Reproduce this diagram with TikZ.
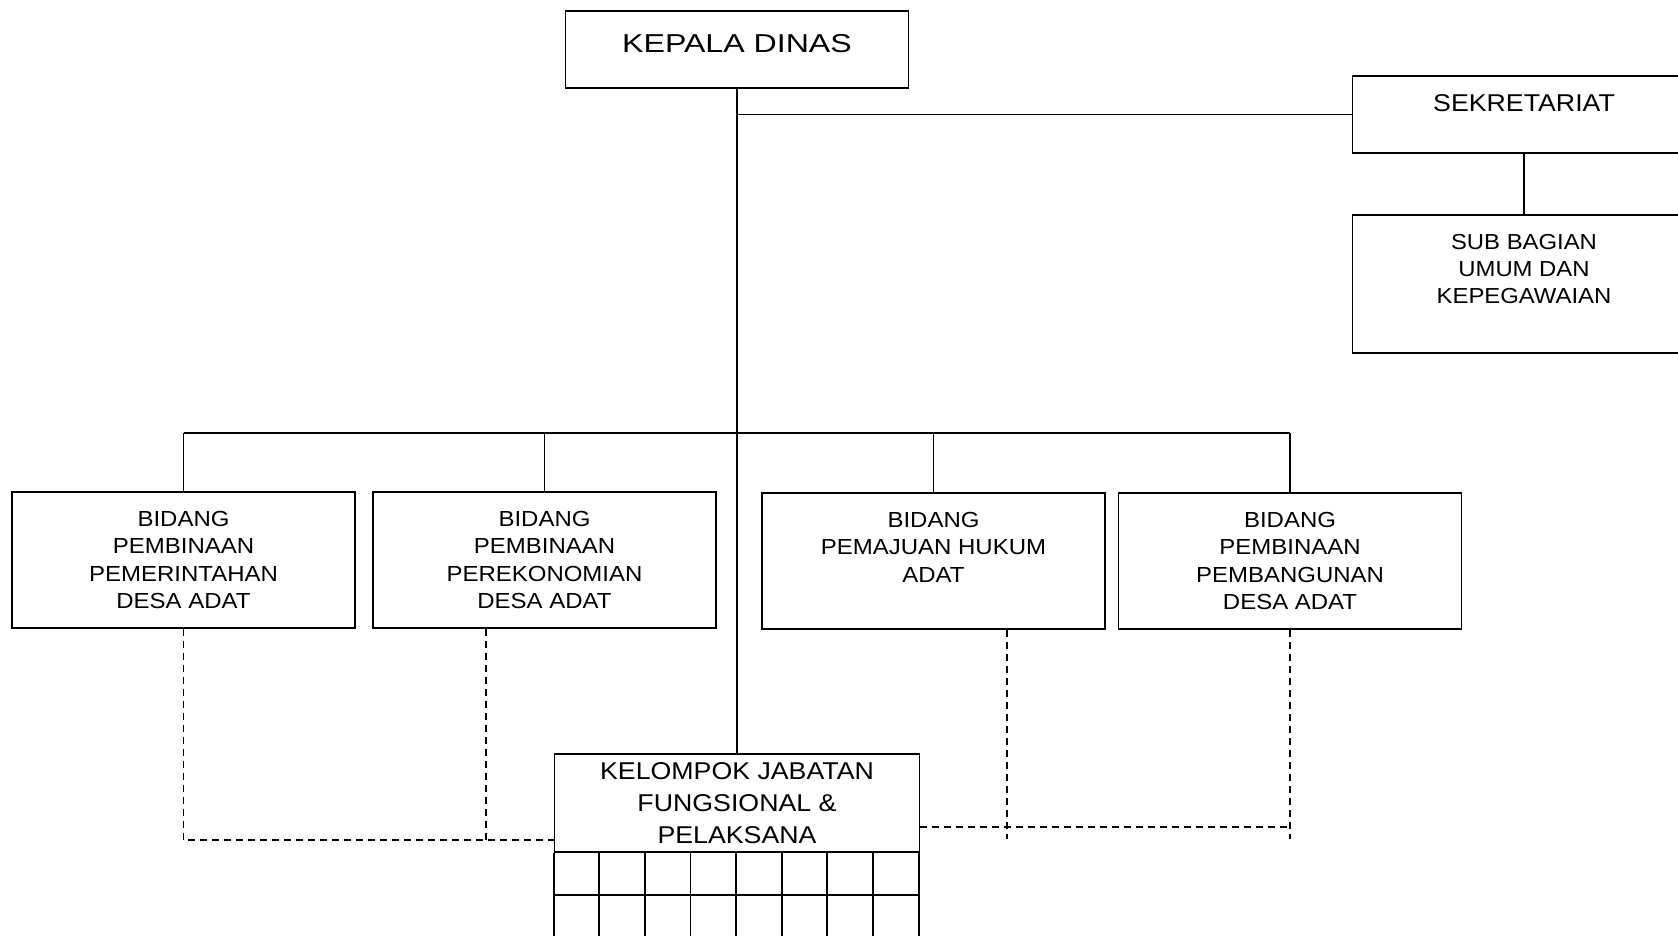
\documentclass[tikz,border=0pt]{standalone}
\usepackage{fontspec}
\setmainfont{Liberation Sans}[FakeStretch=1.1]
\newfontfamily\headfont{Liberation Sans}[FakeStretch=1.24]
\usetikzlibrary{calc}

\newcommand{\unitfont}{\fontsize{21.8}{27.5}\selectfont}
\newcommand{\subfont}{\fontsize{21.7}{26.7}\selectfont}
\newcommand{\bigfont}{\fontsize{24.3}{32}\selectfont}

\tikzset{
  frame/.style={line width=1.8pt},
  unit/.style={frame, draw, inner sep=0pt, minimum width=343pt, minimum height=136pt},
  caption/.style={anchor=north, align=center, inner sep=0pt, yshift=#1},
  link/.style={line width=1.5pt},
  staff/.style={line width=1.4pt, dash pattern=on 7pt off 5pt},
}

\begin{document}
\begin{tikzpicture}[x=1pt, y=-1pt]
  \path[use as bounding box, clip] (0,0) rectangle (1678,936);

  % pimpinan dan sekretariat
  \node[unit, minimum height=77pt,
    label={[caption=-24.5pt, font=\headfont\fontsize{25.9}{31}\selectfont]north:KEPALA DINAS}]
    (kadis) at (737,49.5) {};
  \node[unit, minimum height=77pt,
    label={[caption=-19pt, font=\bigfont]north:SEKRETARIAT}]
    (sekre) at (1524,114.5) {};
  \node[unit, minimum height=138pt,
    label={[caption=-20.3pt, font=\subfont]north:{SUB BAGIAN\\UMUM DAN\\KEPEGAWAIAN}}]
    (subbag) at (1524,284) {};

  % bidang
  \node[unit, label={[caption=-19.5pt, font=\unitfont]north:{BIDANG\\PEMBINAAN\\PEMERINTAHAN\\DESA ADAT}}]
    (bid1) at (183.5,560) {};
  \node[unit, label={[caption=-19.5pt, font=\unitfont]north:{BIDANG\\PEMBINAAN\\PEREKONOMIAN\\DESA ADAT}}]
    (bid2) at (544.5,560) {};
  \node[unit, label={[caption=-19.5pt, font=\unitfont]north:{BIDANG\\PEMAJUAN HUKUM\\ADAT}}]
    (bid3) at (933.5,561) {};
  \node[unit, label={[caption=-19.5pt, font=\unitfont]north:{BIDANG\\PEMBINAAN\\PEMBANGUNAN\\DESA ADAT}}]
    (bid4) at (1290,561) {};

  % jabatan fungsional
  \node[unit, minimum width=365pt, minimum height=98pt,
    label={[caption=-9pt, font=\bigfont]north:{KELOMPOK JABATAN\\FUNGSIONAL \&\\PELAKSANA}}]
    (jafung) at (737,803) {};
  \foreach \k in {0,...,8}
    \draw[frame] ($(jafung.south west)+(\k*45.625,0)$) -- ++(0,100);
  \draw[frame] ($(jafung.south west)+(0,42)$) -- ++(365,0);

  % garis komando
  \coordinate (bus) at (737,433);
  \draw[link] (kadis.south) -- (jafung.north);
  \draw[link] (kadis.south |- sekre.west) -- (sekre.west);
  \draw[link] (sekre.south) -- (subbag.north);
  \draw[link] (bid1.north |- bus) -- (bid4.north |- bus);
  \foreach \b in {bid1,bid2,bid3,bid4}
    \draw[link] (\b.north |- bus) -- (\b.north);

  % garis koordinasi
  \coordinate (leftfeed) at ([yshift=-37pt]jafung.west);
  \coordinate (rightfeed) at ([yshift=-24pt]jafung.east);
  \draw[staff] (bid1.south) |- (leftfeed);
  \draw[staff] ([xshift=-58.5pt]bid2.south) -- ([xshift=-58.5pt]bid2.south |- leftfeed);
  \draw[staff] ([xshift=73.5pt]bid3.south) -- ++(0,209);
  \draw[staff] (bid4.south) -- ++(0,209);
  \draw[staff] (rightfeed) -- (rightfeed -| bid4.south);
\end{tikzpicture}
\end{document}
